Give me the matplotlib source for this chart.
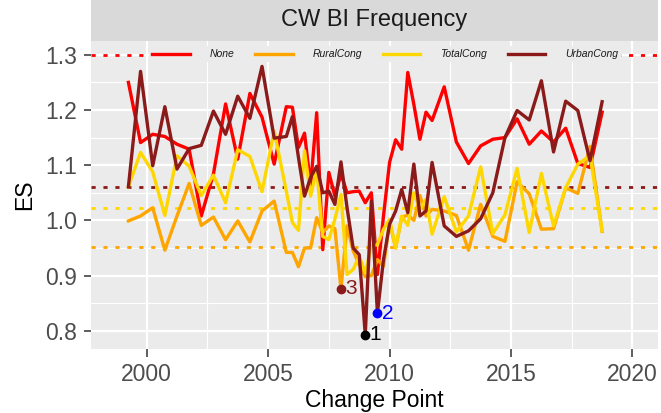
import matplotlib.pyplot as plt
from matplotlib.ticker import MultipleLocator

plt.rcParams['font.family'] = ['Liberation Sans', 'DejaVu Sans']

# change point dates (semi-annual, then quarterly 2006-2011, then semi-annual)
years = [1999.25, 1999.75, 2000.25, 2000.75, 2001.25, 2001.75, 2002.25, 2002.75,
         2003.25, 2003.75, 2004.25, 2004.75, 2005.25, 2005.75,
         2006.0, 2006.25, 2006.5, 2006.75, 2007.0, 2007.25, 2007.5, 2007.75,
         2008.0, 2008.25, 2008.5, 2008.75, 2009.0, 2009.25, 2009.5, 2009.75,
         2010.0, 2010.25, 2010.5, 2010.75, 2011.0, 2011.25, 2011.5, 2011.75,
         2012.25, 2012.75, 2013.25, 2013.75, 2014.25, 2014.75, 2015.25, 2015.75,
         2016.25, 2016.75, 2017.25, 2017.75, 2018.25, 2018.75]

es_none = [1.250, 1.141, 1.156, 1.152, 1.138, 1.129, 1.008, 1.084,
           1.211, 1.111, 1.230, 1.187, 1.102, 1.206,
           1.205, 1.132, 1.158, 1.063, 1.195, 0.947, 1.087, 1.044,
           1.084, 1.050, 1.052, 1.053, 1.032, 1.050, 0.902, 1.008,
           1.105, 1.146, 1.129, 1.268, 1.210, 1.147, 1.196, 1.181,
           1.242, 1.142, 1.103, 1.135, 1.147, 1.150, 1.184, 1.138,
           1.162, 1.142, 1.167, 1.103, 1.096, 1.196]

es_rural = [0.999, 1.008, 1.023, 0.946, 1.008, 1.067, 0.991, 1.006,
            0.965, 0.999, 0.961, 1.017, 1.035, 0.942,
            0.942, 0.916, 0.950, 0.950, 1.005, 0.978, 0.990, 0.985,
            0.876, 0.990, 0.945, 0.920, 0.898, 0.900, 0.929, 0.917,
            0.996, 0.950, 1.005, 1.010, 1.000, 1.045, 1.008, 1.020,
            1.017, 1.009, 0.946, 1.029, 0.971, 0.962, 1.070, 1.048,
            0.984, 0.985, 1.059, 1.049, 1.134, 0.980]

es_total = [1.061, 1.123, 1.088, 1.009, 1.117, 1.098, 1.045, 1.082,
            1.032, 1.128, 1.116, 1.052, 1.162, 1.053,
            0.996, 0.982, 1.126, 1.044, 1.093, 0.971, 0.965, 1.002,
            1.047, 0.902, 0.911, 0.935, 0.905, 0.953, 0.956, 0.984,
            1.002, 0.950, 1.008, 0.991, 1.050, 1.020, 1.038, 0.975,
            1.043, 0.979, 1.008, 1.097, 0.976, 1.010, 1.094, 0.978,
            1.085, 0.990, 1.059, 1.102, 1.117, 0.981]

es_urban = [1.061, 1.270, 1.099, 1.206, 1.093, 1.130, 1.136, 1.198,
            1.156, 1.225, 1.185, 1.279, 1.149, 1.152,
            1.188, 1.114, 1.044, 1.078, 1.098, 1.050, 1.053, 1.029,
            1.106, 1.023, 0.950, 0.938, 0.793, 1.035, 0.832, 0.929,
            0.993, 1.017, 1.056, 1.014, 1.102, 1.008, 1.017, 1.105,
            0.990, 0.971, 0.981, 1.003, 1.050, 1.150, 1.199, 1.182,
            1.253, 1.124, 1.216, 1.199, 1.108, 1.215]

series_names = ["None", "RuralCong", "TotalCong", "UrbanCong"]
series_colors = ["#FF0000", "#FFA500", "#FFD700", "#8B1A1A"]

# reference levels (dotted)
ref_levels = [1.300, 0.952, 1.023, 1.060]

# labelled points
pt_x = [2009.0, 2009.5, 2008.0]
pt_y = [0.793, 0.832, 0.876]
pt_labels = ["1", "2", "3"]
pt_colors = ["black", "#0000FF", "#8B1A1A"]

fig = plt.figure(figsize=(6.61, 4.13), dpi=100)
ax = fig.add_axes([91 / 661, 1 - 349 / 413, 567 / 661, 308 / 413])
ax.set_facecolor("#EBEBEB")
for s in ax.spines.values():
    s.set_visible(False)

ax.set_xlim(1997.71, 2021.05)
ax.set_ylim(0.767, 1.325)
ax.xaxis.set_major_locator(MultipleLocator(5))
ax.xaxis.set_minor_locator(MultipleLocator(2.5))
ax.yaxis.set_major_locator(MultipleLocator(0.1))
ax.yaxis.set_minor_locator(MultipleLocator(0.05))
ax.yaxis.set_major_formatter(lambda v, p: f"{v:.1f}")
ax.grid(which="major", color="white", lw=1.6)
ax.grid(which="minor", color="white", lw=0.8)
ax.set_axisbelow(True)
ax.tick_params(which="major", length=5.4, width=1.1, color="#333333",
               labelsize=16.5, labelcolor="#4D4D4D")
ax.tick_params(axis="x", which="major", pad=4.4)
ax.tick_params(axis="y", which="major", pad=4.7)
ax.tick_params(which="minor", length=0)

all_series = [es_none, es_rural, es_total, es_urban]
for vals, name, col in zip(all_series, series_names, series_colors):
    ax.plot(years, vals, color=col, lw=2.4, label=name, zorder=3)

for lvl, col in zip(ref_levels, series_colors):
    ax.axhline(lvl, color=col, lw=2, dashes=(1.5, 2.8), zorder=2)

for x, y, lab, col in zip(pt_x, pt_y, pt_labels, pt_colors):
    ax.plot([x], [y], "o", color=col, ms=6, zorder=4)
    ax.annotate(lab, (x, y), xytext=(3, 0), textcoords="offset points",
                ha="left", va="center", color=col, fontsize=15, zorder=4)

leg = ax.legend(loc="upper center", bbox_to_anchor=(0.519, 1.0), ncol=4,
                frameon=True, facecolor="#EBEBEB", edgecolor="none", framealpha=1,
                prop={"size": 7.5, "style": "italic"}, handlelength=3.6,
                handletextpad=1.9, columnspacing=2.0, borderpad=0.3)
leg.set_zorder(5)
for t in leg.get_texts():
    t.set_color("#1A1A1A")

ax.set_xlabel("Change Point", fontsize=16.5, color="black", labelpad=2.2)
ax.set_ylabel("ES", fontsize=16.5, color="black", labelpad=6.7)

# facet strip
strip = fig.add_axes([91 / 661, 1 - 41 / 413, 567 / 661, 41 / 413])
strip.set_facecolor("#D9D9D9")
strip.set_xticks([])
strip.set_yticks([])
for s in strip.spines.values():
    s.set_visible(False)
strip.text(0.5, 0.52, "CW BI Frequency", ha="center", va="center",
           fontsize=17, color="#1A1A1A", transform=strip.transAxes)

fig.savefig("out.png", dpi=100)
